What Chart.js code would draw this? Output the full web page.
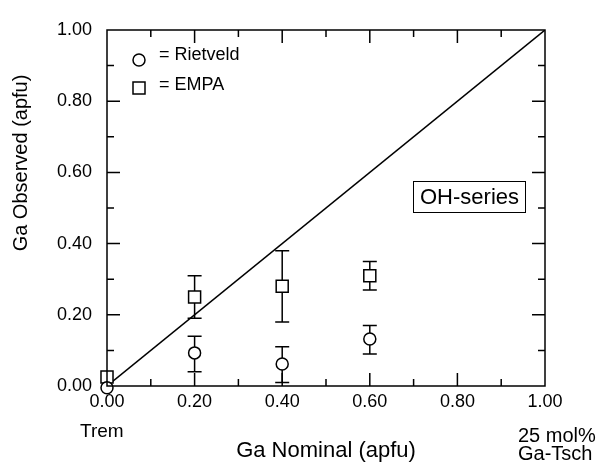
<!DOCTYPE html>
<html>
<head>
<meta charset="utf-8">
<script src="https://cdn.jsdelivr.net/npm/chart.js@4"></script>
<style>
  html, body { margin: 0; padding: 0; background: #fff; }
  #wrap { width: 598px; height: 468px; }
</style>
</head>
<body>
<div id="wrap"><canvas id="gaChart" width="598" height="468"></canvas></div>
<script>
// values
var nominal = [0.00, 0.20, 0.40, 0.60];
var rietveld = [-0.005, 0.093, 0.062, 0.132];
var rietveldLo = [null, 0.04, 0.01, 0.09];
var rietveldHi = [null, 0.14, 0.11, 0.17];
var empa = [0.025, 0.25, 0.28, 0.31];
var empaLo = [0.02, 0.19, 0.18, 0.27];
var empaHi = [0.035, 0.31, 0.38, 0.35];
var oneToOne = [0, 1];
var tickValues = [0, 0.2, 0.4, 0.6, 0.8, 1.0];

var FONT = 'Liberation Sans, Arial, sans-serif';

function pts(xs, ys) {
    return xs.map((x, i) => ({x: x, y: ys[i]}));
}

// error bars, the inward ticks, the box and the annotations
const decorations = {
    id: 'decorations',
    beforeDatasetsDraw(chart) {
        const ctx = chart.ctx, xs = chart.scales.x, ys = chart.scales.y;
        ctx.save();
        ctx.strokeStyle = '#000';
        ctx.lineWidth = 1.5;
        [[rietveldLo, rietveldHi], [empaLo, empaHi]].forEach(pair => {
            nominal.forEach((x, i) => {
                if (pair[0][i] == null) return;
                const px = xs.getPixelForValue(x);
                const y1 = ys.getPixelForValue(pair[0][i]);
                const y2 = ys.getPixelForValue(pair[1][i]);
                const cap = x === 0 ? 6 : 7;
                ctx.beginPath();
                ctx.moveTo(px, y1); ctx.lineTo(px, y2);
                ctx.moveTo(px - cap, y1); ctx.lineTo(px + cap, y1);
                ctx.moveTo(px - cap, y2); ctx.lineTo(px + cap, y2);
                ctx.stroke();
            });
        });
        ctx.restore();
    },
    afterDraw(chart) {
        const ctx = chart.ctx, xs = chart.scales.x, ys = chart.scales.y;
        const a = chart.chartArea;
        ctx.save();
        ctx.strokeStyle = '#000';
        ctx.lineWidth = 1.5;
        ctx.strokeRect(a.left, a.top, a.right - a.left, a.bottom - a.top);
        // inward ticks, major every 0.2, minor every 0.1
        for (let k = 1; k < 10; k++) {
            const v = k / 10;
            const len = (k % 2 === 0) ? 13 : 7;
            const px = xs.getPixelForValue(v);
            const py = ys.getPixelForValue(v);
            ctx.beginPath();
            ctx.moveTo(px, a.bottom); ctx.lineTo(px, a.bottom - len);
            ctx.moveTo(px, a.top); ctx.lineTo(px, a.top + len);
            ctx.moveTo(a.left, py); ctx.lineTo(a.left + len, py);
            ctx.moveTo(a.right, py); ctx.lineTo(a.right - len, py);
            ctx.stroke();
        }
        // legend
        ctx.fillStyle = '#000';
        ctx.beginPath();
        ctx.arc(139, 60, 6, 0, Math.PI * 2);
        ctx.stroke();
        ctx.strokeRect(133, 82, 12, 12);
        ctx.font = '18px ' + FONT;
        ctx.textBaseline = 'middle';
        ctx.textAlign = 'left';
        ctx.fillText('= Rietveld', 159, 55);
        ctx.fillText('= EMPA', 159, 85);
        // series label box
        ctx.lineWidth = 1;
        ctx.strokeRect(413.5, 181.5, 112, 31);
        ctx.font = '22px ' + FONT;
        ctx.textAlign = 'center';
        ctx.fillText('OH-series', 469.5, 198);
        // end member labels
        ctx.font = '19px ' + FONT;
        ctx.textAlign = 'left';
        ctx.fillText('Trem', 80, 432);
        ctx.font = '20px ' + FONT;
        ctx.fillText('25 mol%', 518, 436);
        ctx.fillText('Ga-Tsch', 518, 454);
        // y axis title, sits above the middle of the axis
        ctx.translate(21, 163);
        ctx.rotate(-Math.PI / 2);
        ctx.textAlign = 'center';
        ctx.font = '20px ' + FONT;
        ctx.fillText('Ga Observed (apfu)', 0, 0);
        ctx.restore();
    }
};

document.addEventListener('DOMContentLoaded', () => {
    const ctx = document.getElementById('gaChart').getContext('2d');
    new Chart(ctx, {
        type: 'scatter',
        data: {
            datasets: [{
                label: 'Rietveld',
                data: pts(nominal, rietveld),
                pointStyle: 'circle',
                pointRadius: 6,
                backgroundColor: '#fff',
                borderColor: '#000',
                borderWidth: 1.5,
                clip: false,
                order: 1
            }, {
                label: 'EMPA',
                data: pts(nominal, empa),
                pointStyle: 'rect',
                pointRadius: 8.5,
                backgroundColor: '#fff',
                borderColor: '#000',
                borderWidth: 1.5,
                clip: false,
                order: 2
            }, {
                type: 'line',
                label: '1:1',
                data: pts(oneToOne, oneToOne),
                borderColor: '#000',
                borderWidth: 1.5,
                pointRadius: 0,
                fill: false,
                order: 3
            }]
        },
        options: {
            responsive: false,
            animation: false,
            layout: { padding: { top: 30, right: 53, left: 0, bottom: 0 } },
            plugins: {
                legend: { display: false },
                tooltip: { enabled: false }
            },
            scales: {
                x: {
                    type: 'linear',
                    min: 0, max: 1,
                    afterBuildTicks: s => { s.ticks = tickValues.map(v => ({value: v})); },
                    afterFit: s => { s.height = 82; },
                    grid: { display: false, drawTicks: false },
                    border: { display: false },
                    ticks: {
                        padding: 5,
                        color: '#000',
                        font: { family: FONT, size: 18 },
                        callback: v => v.toFixed(2)
                    },
                    title: {
                        display: true,
                        text: 'Ga Nominal (apfu)',
                        color: '#000',
                        font: { family: FONT, size: 22 },
                        padding: { top: 13 }
                    }
                },
                y: {
                    type: 'linear',
                    min: 0, max: 1,
                    afterBuildTicks: s => { s.ticks = tickValues.map(v => ({value: v})); },
                    afterFit: s => { s.width = 107; },
                    grid: { display: false, drawTicks: false },
                    border: { display: false },
                    ticks: {
                        padding: 15,
                        color: '#000',
                        font: { family: FONT, size: 18 },
                        callback: v => v.toFixed(2)
                    },
                    title: { display: false }
                }
            }
        },
        plugins: [decorations]
    });
});
</script>
</body>
</html>
